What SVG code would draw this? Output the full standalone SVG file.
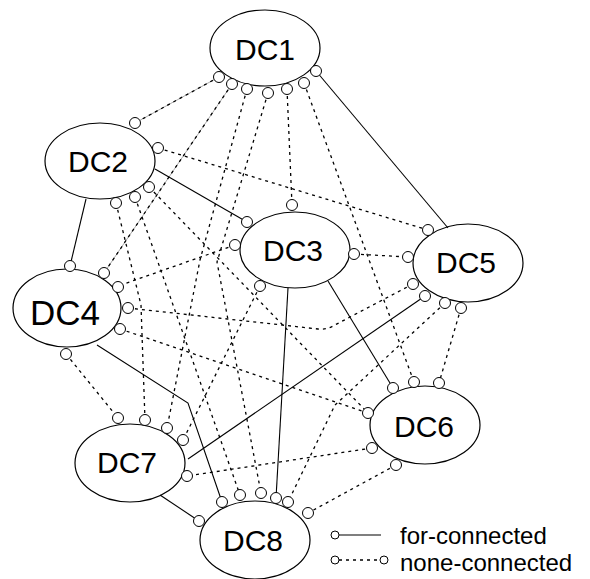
<svg xmlns="http://www.w3.org/2000/svg" width="590" height="579" viewBox="0 0 590 579">
<style>
.n ellipse{fill:#fff;stroke:#000;stroke-width:1.2}
.n text{font-family:"Liberation Sans",Arial,sans-serif;font-size:30px;text-anchor:middle;fill:#000}
.d{stroke:#000;stroke-width:1.3;stroke-dasharray:3 4;fill:none}
.g{stroke:#aaa;stroke-width:1;fill:none}
.s{stroke:#000;stroke-width:1.1;fill:none}
.c{fill:#fff;stroke:#000;stroke-width:1}
.lt{font-family:"Liberation Sans",Arial,sans-serif;font-size:24px;fill:#000}
</style>
<rect width="590" height="579" fill="#fff"/>
<g id="DC1" class="n"><ellipse cx="265" cy="48" rx="55" ry="38"/><text x="265" y="60">DC1</text></g>
<g id="DC2" class="n"><ellipse cx="100" cy="161" rx="55" ry="38"/><text x="98" y="172">DC2</text></g>
<g id="DC3" class="n"><ellipse cx="295" cy="250" rx="55" ry="38"/><text x="293" y="261">DC3</text></g>
<g id="DC4" class="n"><ellipse cx="67" cy="308" rx="54" ry="39"/><text x="65" y="325" style="font-size:35px">DC4</text></g>
<g id="DC5" class="n"><ellipse cx="468" cy="263" rx="55" ry="39"/><text x="466" y="273">DC5</text></g>
<g id="DC6" class="n"><ellipse cx="425" cy="425" rx="55" ry="39"/><text x="424" y="437">DC6</text></g>
<g id="DC7" class="n"><ellipse cx="130" cy="463" rx="55" ry="39"/><text x="127" y="473">DC7</text></g>
<g id="DC8" class="n"><ellipse cx="255" cy="540" rx="55" ry="39"/><text x="253" y="551">DC8</text></g>
<g id="connectors">
<path class="g" d="M219,77 L135,123 M232,84 L104,273"/>
<path class="d" d="M219,77 L135,123"/>
<path class="d" d="M232,84 L104,273"/>
<path class="d" d="M247,89 L200,260 L167,428"/>
<path class="d" d="M268,93 L217,262 L261,493"/>
<path class="d" d="M287,89 L292,205"/>
<path class="d" d="M304,83 L414,382"/>
<path class="d" d="M158,148 L428,230"/>
<path class="d" d="M149,187 L368,413"/>
<path class="d" d="M135,197 L240,495"/>
<path class="d" d="M116,203 L141,305 L145,420"/>
<path class="d" d="M235,245 L118,286"/>
<path class="d" d="M354,254 L408,257"/>
<path class="d" d="M260,286 L183,440"/>
<path class="d" d="M128,308 L318,329 Q326,330 333,326 L413,284"/>
<path class="d" d="M120,329 L368,413"/>
<path class="d" d="M66,354 L118,418"/>
<path class="d" d="M461,308 L439,383"/>
<path class="d" d="M445,303 L335,405 L288,502"/>
<path class="d" d="M372,448 L187,476"/>
<path class="d" d="M396,465 L308,513"/>
<path class="s" d="M316,71 L448,228"/>
<path class="s" d="M155,169 L247,222"/>
<path class="s" d="M86,199 L70,266"/>
<path class="s" d="M328,281 L393,388"/>
<path class="s" d="M288,288 L276,498"/>
<path class="s" d="M97,345 L188,403 L222,502"/>
<path class="s" d="M188,459 L425,296"/>
<path class="s" d="M160,495 L199,521"/>
<g class="c">
<circle cx="219" cy="77" r="5.5"/><circle cx="232" cy="84" r="5.5"/><circle cx="247" cy="89" r="5.5"/><circle cx="268" cy="93" r="5.5"/><circle cx="287" cy="89" r="5.5"/><circle cx="304" cy="83" r="5.5"/><circle cx="316" cy="71" r="5.5"/>
<circle cx="135" cy="123" r="5.5"/><circle cx="158" cy="148" r="5.5"/><circle cx="149" cy="187" r="5.5"/><circle cx="135" cy="197" r="5.5"/><circle cx="116" cy="203" r="5.5"/>
<circle cx="292" cy="205" r="5.5"/><circle cx="247" cy="222" r="5.5"/><circle cx="235" cy="245" r="5.5"/><circle cx="354" cy="254" r="5.5"/><circle cx="260" cy="286" r="5.5"/>
<circle cx="70" cy="266" r="5.5"/><circle cx="104" cy="273" r="5.5"/><circle cx="118" cy="287" r="5.5"/><circle cx="128" cy="308" r="5.5"/><circle cx="120" cy="329" r="5.5"/><circle cx="66" cy="354" r="5.5"/>
<circle cx="428" cy="230" r="5.5"/><circle cx="408" cy="257" r="5.5"/><circle cx="413" cy="284" r="5.5"/><circle cx="425" cy="296" r="5.5"/><circle cx="445" cy="303" r="5.5"/><circle cx="461" cy="308" r="5.5"/>
<circle cx="393" cy="388" r="5.5"/><circle cx="414" cy="382" r="5.5"/><circle cx="439" cy="383" r="5.5"/><circle cx="368" cy="413" r="5.5"/><circle cx="372" cy="448" r="5.5"/><circle cx="396" cy="465" r="5.5"/>
<circle cx="118" cy="418" r="5.5"/><circle cx="145" cy="420" r="5.5"/><circle cx="167" cy="428" r="5.5"/><circle cx="183" cy="440" r="5.5"/><circle cx="187" cy="476" r="5.5"/>
<circle cx="199" cy="521" r="5.5"/><circle cx="222" cy="502" r="5.5"/><circle cx="240" cy="495" r="5.5"/><circle cx="261" cy="493" r="5.5"/><circle cx="276" cy="498" r="5.5"/><circle cx="288" cy="502" r="5.5"/><circle cx="308" cy="513" r="5.5"/>
</g>
</g>
<g id="legend">
<path class="s" d="M339,535 L381,535"/>
<path class="d" d="M339,560 L380,560"/>
<g class="c"><circle cx="335" cy="535" r="4"/><circle cx="335" cy="560" r="4"/><circle cx="384" cy="560" r="4"/></g>
<text class="lt" x="400" y="544">for-connected</text>
<text class="lt" x="400" y="571">none-connected</text>
</g>
</svg>
